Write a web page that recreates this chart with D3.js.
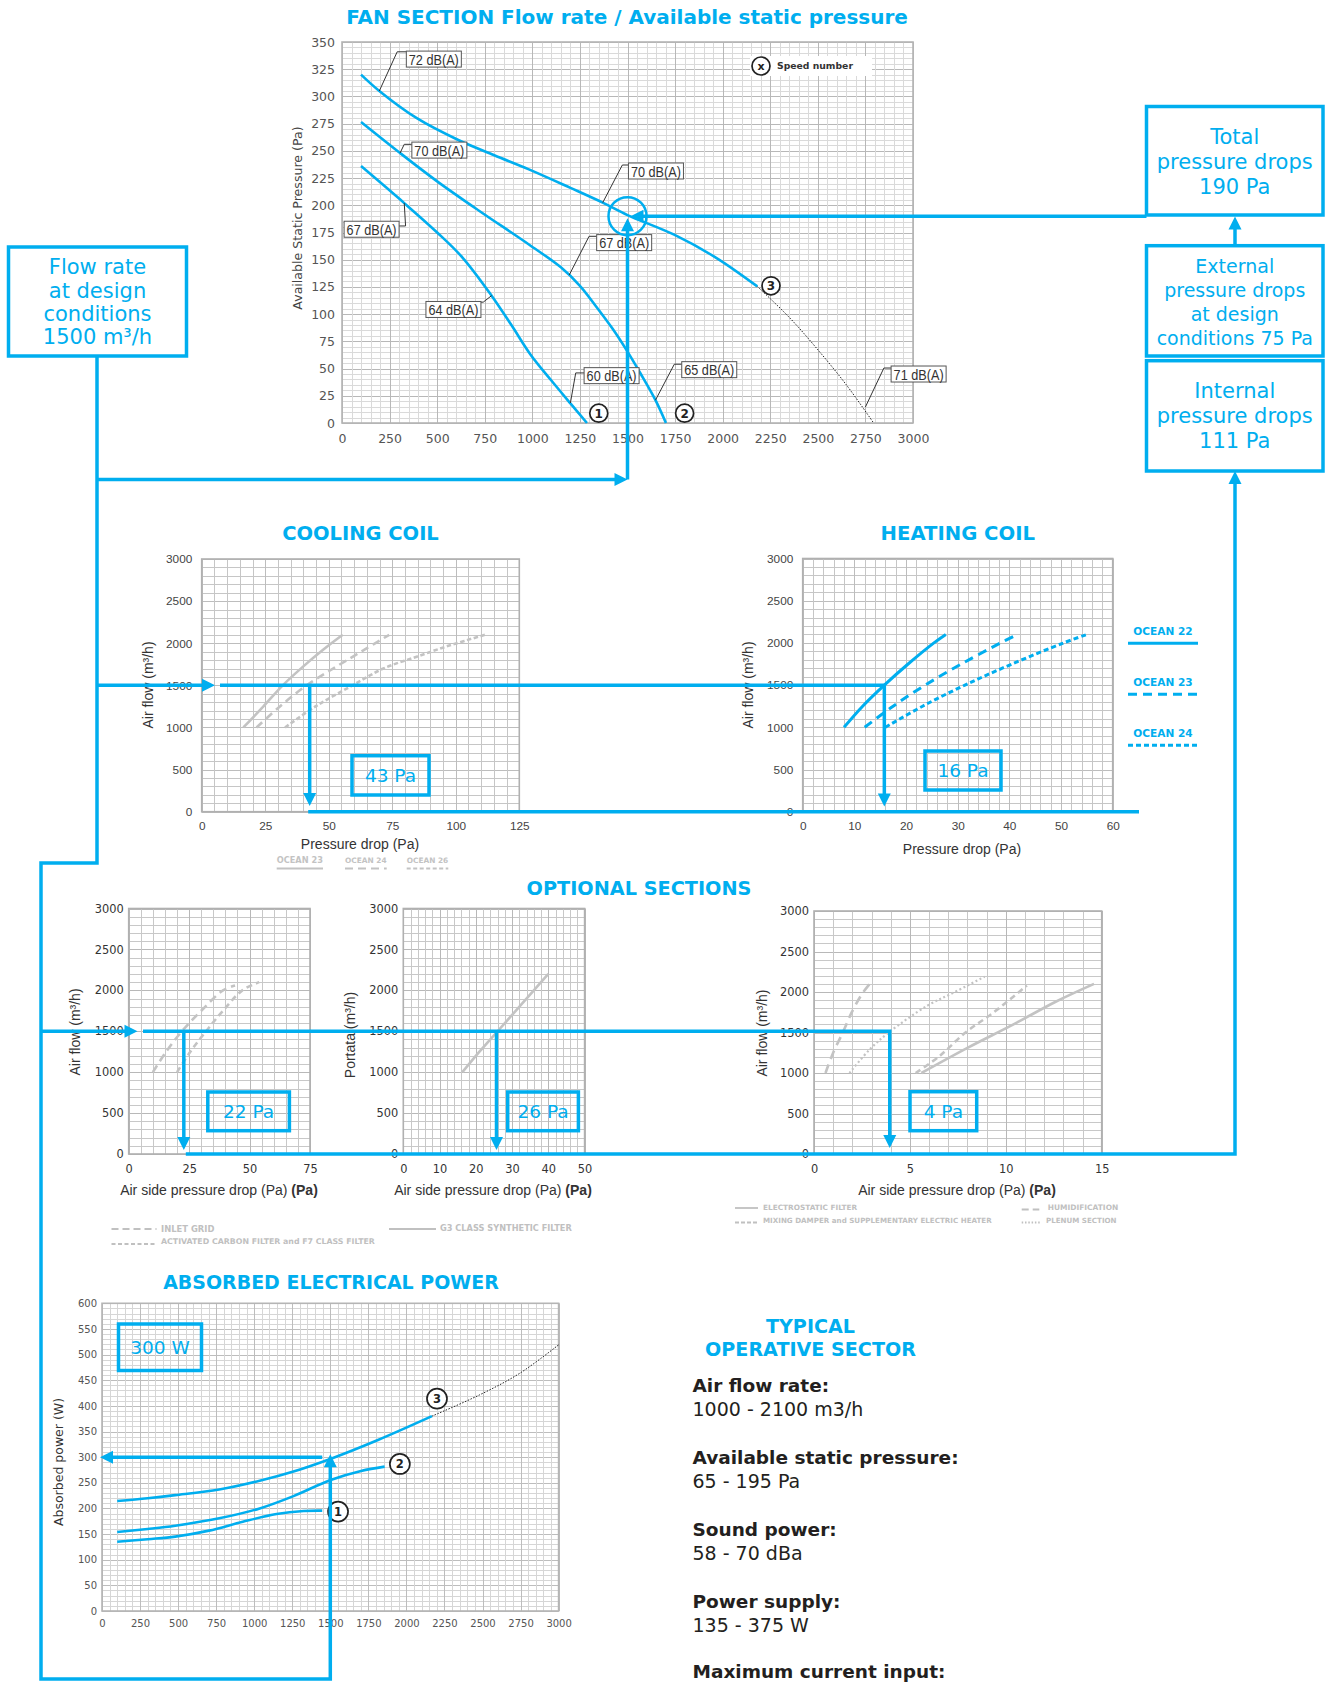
<!DOCTYPE html>
<html><head><meta charset="utf-8">
<script src="https://cdn.jsdelivr.net/npm/d3@7"></script>
<style>body{margin:0;background:#fff}svg{display:block}</style>
</head><body>
<svg id="c" width="1330" height="1682"></svg>
<script>
// ================= DATA =================
// Fan section
const fanXTicks = [0,250,500,750,1000,1250,1500,1750,2000,2250,2500,2750,3000];
const fanYTicks = [0,25,50,75,100,125,150,175,200,225,250,275,300,325,350];
const fanSpeed1 = [[100,236],[327,202],[500,175],[633,152],[786,117],[890,90],[990,63],[1100,39],[1200,18],[1287,0]];
const fanSpeed2 = [[100,276.5],[305,248],[500,222],[720,195],[982,164],[1150,143],[1250,126],[1331,108],[1420,87],[1495,67],[1570,45],[1647,21],[1702,0]];
const fanSpeed3 = [[100,320],[196,305],[393,280],[611,260],[800,246],[982,233],[1200,216],[1375,202],[1500,191],[1745,173],[1964,152],[2182,125.5]];
const fanSpeed3Ext = [[2182,125.5],[2350,97],[2487,70],[2650,35],[2793,0]];
const fanNoiseLabels = ["72 dB(A)","70 dB(A)","70 dB(A)","67 dB(A)","67 dB(A)","64 dB(A)","60 dB(A)","65 dB(A)","71 dB(A)"];
const fanNoiseOnCurve = [[196,305],[305,248],[1370,202.5],[327,202],[1194,136],[786,117],[1200,18.4],[1647,21],[2750,14.7]];
const fanNoiseElbow = [[290,341],[327,256],[1473,237],[334,181],[1298,171.5],[742,111],[1228,46],[1746,54],[2847,50.5]];
const fanNoiseBox = [[338,334.3],[367,250.7],[1505,231.5],[11,178],[1338,165.7],[441,104.3],[1272,43.5],[1785,49],[2885,45]];
const fanSpeedMarks = [[1349,9],[1800,9],[2254,126]];
const speedMarkLabels = ["1","2","3"];
const designFlow = 1500;
const designFanPressure = 190;

// Coils
const coilYTicks = [0,500,1000,1500,2000,2500,3000];
const coolXTicks = [0,25,50,75,100,125];
const coolOcean23 = [[16.4,1000],[24.3,1250],[31.9,1500],[40,1725],[47.9,1925],[55.5,2100]];
const coolOcean24 = [[21.6,1000],[30.8,1250],[41.3,1500],[53.1,1725],[63.6,1915],[73.8,2100]];
const coolOcean26 = [[32.8,1000],[45.3,1260],[59.4,1500],[71.5,1700],[84.6,1840],[97.7,1975],[111.5,2100]];
const coolLegend = ["OCEAN 23","OCEAN 24","OCEAN 26"];
const coolDesignDrop = 42.5;
const heatXTicks = [0,10,20,30,40,50,60];
const heatOcean22 = [[8,1000],[11.6,1250],[15.8,1500],[20.4,1750],[25.4,2000],[27.7,2100]];
const heatOcean23 = [[12,1000],[17.5,1250],[23.7,1500],[30.7,1750],[38.3,2000],[41.6,2100]];
const heatOcean24 = [[16,1000],[23.2,1250],[31.4,1500],[40.5,1750],[50.5,2000],[55,2100]];
const heatLegend = ["OCEAN 22","OCEAN 23","OCEAN 24"];
const heatDesignDrop = 15.8;

// Optional sections
const optYTicks = [0,500,1000,1500,2000,2500,3000];
const optAXTicks = [0,25,50,75];
const optBXTicks = [0,10,20,30,40,50];
const optCXTicks = [0,5,10,15];
const optInletGrid = [[10,1000],[15.5,1250],[22,1500],[30,1750],[39,2000],[44,2060]];
const optCarbonF7 = [[20,1000],[25.5,1250],[32,1500],[39,1750],[47,2000],[54,2100]];
const optG3 = [[16.3,1000],[21,1250],[26,1500],[31,1750],[36,2000],[40,2200]];
const optElectro = [[5.6,1000],[8,1310],[10.4,1600],[12.6,1880],[14.6,2100]];
const optMixing = [[5.3,1000],[6.5,1200],[7.9,1500],[9.35,1745],[11.1,2080]];
const optHumid = [[0.6,1000],[1.0,1250],[1.5,1500],[1.96,1745],[2.5,1975],[2.9,2100]];
const optPlenum = [[1.85,1000],[2.9,1290],[3.9,1500],[5.9,1830],[7.3,1995],[8.9,2190]];
const optADesignDrop = 22.8, optBDesignDrop = 25.7, optCDesignDrop = 3.95;

// Absorbed power
const powXTicks = [0,250,500,750,1000,1250,1500,1750,2000,2250,2500,2750,3000];
const powYTicks = [0,50,100,150,200,250,300,350,400,450,500,550,600];
const pow1 = [[100,135],[300,140],[481,145],[703,156.7],[925,174],[1147,189],[1325,195],[1447,195.7]];
const pow2 = [[100,154],[300,160],[481,166.4],[770,180.7],[1036,200],[1258,224],[1502,255.5],[1702,273],[1857,281.5]];
const pow3 = [[100,214.6],[300,220],[481,226],[770,237],[1036,254],[1258,272],[1513,298],[1813,333.5],[2168,380]];
const pow3Ext = [[2168,380],[2478,421],[2745,463.6],[3000,519]];
const powMarks = [[1551,193.8],[1957,286.7],[2201,414]];
const designPower = 300;

// ================= DRAWING =================
const CY = "#00aeef";
const GREY = "#c3c3c3";
const DJ = "DejaVu Sans", LB = "Liberation Sans";
const svg = d3.select("#c");
svg.append("rect").attr("width",1330).attr("height",1682).attr("fill","#fff");

function fit(sel, w){ const L = sel.node().getComputedTextLength(); const fs = parseFloat(sel.attr("font-size")); sel.attr("font-size", fs*w/L); return sel; }
function txt(g, x, y, t, o={}){
  const s = g.append("text").attr("x",x).attr("y",y).attr("dy", o.dy||"0.36em")
    .attr("text-anchor", o.anchor||"start").attr("font-family", o.font||DJ).attr("font-size", o.fs||12)
    .attr("font-weight", o.bold?"bold":"normal").attr("fill", o.fill||"#333").text(t);
  if (o.rot) s.attr("transform",`rotate(-90,${x},${y})`);
  if (o.w) fit(s, o.w);
  return s;
}

function makeChart(o){
  const g = svg.append("g");
  const x = d3.scaleLinear().domain(o.xDom).range([o.l,o.r]);
  const y = d3.scaleLinear().domain(o.yDom).range([o.b,o.t]);
  g.append("rect").attr("x",o.l).attr("y",o.t).attr("width",o.r-o.l).attr("height",o.b-o.t).attr("fill","#fff");
  const eps = 1e-9;
  const isMaj = (v,m)=> Math.abs(v/m - Math.round(v/m)) < 1e-6;
  const hy = d3.range(o.yDom[0], o.yDom[1]+eps, o.yStep);
  const vx = d3.range(o.xDom[0], o.xDom[1]+eps, o.xStep);
  g.selectAll(null).data(hy).join("line")
    .attr("x1",o.l).attr("x2",o.r).attr("y1",d=>Math.round(y(d))+0.5).attr("y2",d=>Math.round(y(d))+0.5)
    .attr("stroke",d=>isMaj(d,o.yMaj)?o.majC:o.minC).attr("stroke-width",1);
  g.selectAll(null).data(vx).join("line")
    .attr("y1",o.t).attr("y2",o.b).attr("x1",d=>Math.round(x(d))+0.5).attr("x2",d=>Math.round(x(d))+0.5)
    .attr("stroke",d=>isMaj(d,o.xMaj)?o.majC:o.minC).attr("stroke-width",1);
  g.append("rect").attr("x",o.l).attr("y",o.t).attr("width",o.r-o.l).attr("height",o.b-o.t)
    .attr("fill","none").attr("stroke",o.borderC).attr("stroke-width",1.6);
  const ax = g.append("g").attr("transform",`translate(0,${o.b})`)
    .call(d3.axisBottom(x).tickValues(o.xTicks).tickSize(0).tickPadding(o.xPad).tickFormat(d=>d));
  ax.select(".domain").remove();
  ax.selectAll("text").attr("font-family",o.font).attr("font-size",o.fs).attr("fill",o.tc);
  const ay = g.append("g").attr("transform",`translate(${o.l},0)`)
    .call(d3.axisLeft(y).tickValues(o.yTicks).tickSize(0).tickPadding(o.yPad).tickFormat(d=>d));
  ay.select(".domain").remove();
  ay.selectAll("text").attr("font-family",o.font).attr("font-size",o.fs).attr("fill",o.tc);
  return {g,x,y};
}
function curve(c, data, o){
  const line = d3.line().x(d=>c.x(d[0])).y(d=>c.y(d[1])).curve(d3.curveCatmullRom.alpha(0.5));
  return c.g.append("path").attr("d",line(data)).attr("fill","none").attr("stroke",o.color)
    .attr("stroke-width",o.w).attr("stroke-dasharray",o.dash||null).attr("stroke-linecap",o.cap||"butt");
}
function mark(c, p, label, r, fs){
  const g = c.g.append("g").attr("transform",`translate(${c.x(p[0])},${c.y(p[1])})`);
  g.append("circle").attr("r",r).attr("fill","#fff").attr("stroke","#222").attr("stroke-width",1.7);
  g.append("text").text(label).attr("text-anchor","middle").attr("dy","0.36em").attr("font-family",DJ)
    .attr("font-weight","bold").attr("font-size",fs).attr("fill","#222");
}
function valueBox(x0,y0,x1,y1,label,fs){
  svg.append("rect").attr("x",x0).attr("y",y0).attr("width",x1-x0).attr("height",y1-y0)
    .attr("fill","none").attr("stroke",CY).attr("stroke-width",3.5);
  txt(svg,(x0+x1)/2,(y0+y1)/2,label,{anchor:"middle",fs:fs,fill:CY});
}
function wire(pts, arrow, w){
  w = w||3.5;
  const p = pts.map(d=>d.slice());
  let head = null;
  if (arrow){
    const n = p.length, a = p[n-2], b = p[n-1];
    const dx=b[0]-a[0], dy=b[1]-a[1], L=Math.hypot(dx,dy), ux=dx/L, uy=dy/L;
    p[n-1] = [b[0]-ux*10, b[1]-uy*10];
    const bx=b[0]-ux*13, by=b[1]-uy*13;
    head = `M${b[0]},${b[1]}L${bx-uy*6.5},${by+ux*6.5}L${bx+uy*6.5},${by-ux*6.5}Z`;
  }
  svg.append("path").attr("d",d3.line()(p)).attr("fill","none").attr("stroke",CY).attr("stroke-width",w).attr("stroke-linejoin","miter");
  if (head) svg.append("path").attr("d",head).attr("fill",CY);
}

// ---------- FAN SECTION ----------
txt(svg,627,17,"FAN SECTION Flow rate / Available static pressure",{anchor:"middle",bold:true,fs:20,fill:CY,w:562});
const fan = makeChart({l:342,r:913,t:42,b:423,xDom:[0,3000],yDom:[0,350],xStep:50,yStep:5,xMaj:250,yMaj:25,
  minC:"#dadada",majC:"#b8b8b8",borderC:"#b5b5b5",xTicks:fanXTicks,yTicks:fanYTicks,font:DJ,fs:12.5,tc:"#555",xPad:11,yPad:7});
txt(svg,297,218,"Available Static Pressure (Pa)",{anchor:"middle",rot:true,fs:12.6,fill:"#444"});
// legend
fan.g.append("rect").attr("x",750).attr("y",56).attr("width",122).attr("height",20).attr("fill","#fff");
fan.g.append("circle").attr("cx",761).attr("cy",66).attr("r",9).attr("fill","#fff").attr("stroke","#222").attr("stroke-width",1.7);
txt(fan.g,761,66,"x",{anchor:"middle",bold:true,fs:11,fill:"#222"});
txt(fan.g,777,65.5,"Speed number",{bold:true,fs:10,fill:"#333",w:76});
curve(fan,fanSpeed3Ext,{color:"#222",w:1,dash:"1.5,1.5"});
curve(fan,fanSpeed1,{color:CY,w:2.6});
curve(fan,fanSpeed2,{color:CY,w:2.6});
curve(fan,fanSpeed3,{color:CY,w:2.6});
fanNoiseLabels.forEach((t,i)=>{
  const p=fanNoiseOnCurve[i], e=fanNoiseElbow[i], b=fanNoiseBox[i];
  const bx=fan.x(b[0]), by=fan.y(b[1]), bw=55, bh=16;
  const ex=fan.x(e[0]), ey=fan.y(e[1]);
  const edge = bx>ex ? bx : bx+bw;
  fan.g.append("path").attr("d",d3.line()([[fan.x(p[0]),fan.y(p[1])],[ex,ey],[edge,ey]]))
    .attr("fill","none").attr("stroke","#333").attr("stroke-width",1);
  fan.g.append("rect").attr("x",bx).attr("y",by-bh/2).attr("width",bw).attr("height",bh).attr("fill","#fff").attr("stroke","#555").attr("stroke-width",1);
  fan.g.append("text").attr("x",bx+2.5).attr("y",by).attr("dy","0.37em").attr("textLength",50).attr("lengthAdjust","spacingAndGlyphs")
    .attr("font-family",LB).attr("font-size",15.5).attr("fill","#333").text(t);
});
fanSpeedMarks.forEach((p,i)=>mark(fan,p,speedMarkLabels[i],9,12));
fan.g.append("circle").attr("cx",fan.x(designFlow)).attr("cy",fan.y(designFanPressure)).attr("r",19)
  .attr("fill","none").attr("stroke",CY).attr("stroke-width",2.5);

// ---------- COOLING COIL ----------
txt(svg,360.5,533,"COOLING COIL",{anchor:"middle",bold:true,fs:20,fill:CY,w:156.7});
const cool = makeChart({l:201.7,r:519.3,t:559,b:811.7,xDom:[0,125],yDom:[0,3000],xStep:5,yStep:100,xMaj:25,yMaj:500,
  minC:"#c6c6c6",majC:"#bdbdbd",borderC:"#b0b0b0",xTicks:coolXTicks,yTicks:coilYTicks,font:LB,fs:11.8,tc:"#444",xPad:9.5,yPad:9.4});
txt(svg,148,685,"Air flow (m³/h)",{anchor:"middle",rot:true,font:LB,fs:14,fill:"#333"});
txt(svg,360,844,"Pressure drop (Pa)",{anchor:"middle",font:LB,fs:14,fill:"#333"});
curve(cool,coolOcean23,{color:GREY,w:2.6});
curve(cool,coolOcean24,{color:GREY,w:2.6,dash:"8,5"});
curve(cool,coolOcean26,{color:GREY,w:2.6,dash:"4.5,2.5"});
[[276.7,46.3,null],[345,41.7,"8,5"],[406.7,41.6,"4,2.5"]].forEach((d,i)=>{
  txt(svg,d[0],860,coolLegend[i],{bold:true,fs:8.5,fill:"#c3c3c3",w:d[1]});
  svg.append("line").attr("x1",d[0]).attr("x2",d[0]+d[1]).attr("y1",868.5).attr("y2",868.5)
    .attr("stroke","#c3c3c3").attr("stroke-width",2).attr("stroke-dasharray",d[2]);
});

// ---------- HEATING COIL ----------
txt(svg,957.8,533,"HEATING COIL",{anchor:"middle",bold:true,fs:20,fill:CY,w:154.5});
const heat = makeChart({l:802.7,r:1112.7,t:558.5,b:811.7,xDom:[0,60],yDom:[0,3000],xStep:2,yStep:100,xMaj:10,yMaj:500,
  minC:"#c6c6c6",majC:"#bdbdbd",borderC:"#b0b0b0",xTicks:heatXTicks,yTicks:coilYTicks,font:LB,fs:11.8,tc:"#444",xPad:10,yPad:9.4});
txt(svg,748.3,685,"Air flow (m³/h)",{anchor:"middle",rot:true,font:LB,fs:14,fill:"#333"});
txt(svg,962,849,"Pressure drop (Pa)",{anchor:"middle",font:LB,fs:14,fill:"#333"});
curve(heat,heatOcean22,{color:CY,w:3});
curve(heat,heatOcean23,{color:CY,w:3,dash:"9,6"});
curve(heat,heatOcean24,{color:CY,w:3,dash:"5,3"});
[[630.7,null],[681.7,"9,6"],[732.7,"5,3"]].forEach((d,i)=>{
  txt(svg,1133.3,d[0],heatLegend[i],{bold:true,fs:10.5,fill:CY,w:59.4});
  svg.append("line").attr("x1",1128).attr("x2",1198).attr("y1",d[0]+12.5).attr("y2",d[0]+12.5)
    .attr("stroke",CY).attr("stroke-width",3).attr("stroke-dasharray",d[1]);
});

// ---------- OPTIONAL SECTIONS ----------
txt(svg,639,888,"OPTIONAL SECTIONS",{anchor:"middle",bold:true,fs:20,fill:CY,w:225});
const optCfg = {yDom:[0,3000],yStep:100,yMaj:500,minC:"#c8c8c8",majC:"#b8b8b8",borderC:"#b0b0b0",yTicks:optYTicks,font:DJ,fs:11.4,tc:"#333",xPad:10.5,yPad:5};
const optA = makeChart(Object.assign({},optCfg,{l:128.7,r:310,t:908.5,b:1154,xDom:[0,75],xStep:5,xMaj:25,xTicks:optAXTicks}));
const optB = makeChart(Object.assign({},optCfg,{l:403.3,r:584.6,t:908.5,b:1154,xDom:[0,50],xStep:2,xMaj:10,xTicks:optBXTicks}));
const optC = makeChart(Object.assign({},optCfg,{l:814,r:1101.7,t:911,b:1154,xDom:[0,15],xStep:1,xMaj:5,xTicks:optCXTicks}));
txt(svg,75,1032,"Air flow (m³/h)",{anchor:"middle",rot:true,font:LB,fs:14,fill:"#333"});
txt(svg,350,1035,"Portata (m³/h)",{anchor:"middle",rot:true,font:LB,fs:14,fill:"#333"});
txt(svg,761.7,1033,"Air flow (m³/h)",{anchor:"middle",rot:true,font:LB,fs:14,fill:"#333"});
[[219,optA],[493,optB],[957,optC]].forEach(d=>{
  const t = svg.append("text").attr("x",d[0]).attr("y",1189.5).attr("dy","0.36em").attr("text-anchor","middle")
    .attr("font-family",LB).attr("font-size",14).attr("fill","#333");
  t.append("tspan").text("Air side pressure drop (Pa) ");
  t.append("tspan").attr("font-weight","bold").text("(Pa)");
});
curve(optA,optInletGrid,{color:GREY,w:2.6,dash:"8,5"});
curve(optA,optCarbonF7,{color:GREY,w:2.6,dash:"6,4"});
curve(optB,optG3,{color:GREY,w:2.6});
curve(optC,optElectro,{color:GREY,w:2.6});
curve(optC,optMixing,{color:GREY,w:2.6,dash:"6,4"});
curve(optC,optHumid,{color:GREY,w:2.6,dash:"9,6"});
curve(optC,optPlenum,{color:GREY,w:2.2,dash:"2,2.5"});
// legends
const LG = "#c0c0c0";
function legLine(x0,x1,y,dash){ svg.append("line").attr("x1",x0).attr("x2",x1).attr("y1",y).attr("y2",y).attr("stroke",LG).attr("stroke-width",1.8).attr("stroke-dasharray",dash); }
legLine(111.5,156.5,1229,"7,4"); txt(svg,161,1228.5,"INLET GRID",{bold:true,fs:8,fill:LG,w:53.5});
legLine(111.5,156.5,1244,"4,2.5"); txt(svg,161,1241.5,"ACTIVATED CARBON FILTER and F7 CLASS FILTER",{bold:true,fs:8,fill:LG,w:214});
legLine(389,436,1229,null); txt(svg,440,1228.5,"G3 CLASS SYNTHETIC FILTER",{bold:true,fs:8,fill:LG,w:132});
legLine(735,758,1208,null); txt(svg,763,1207.5,"ELECTROSTATIC FILTER",{bold:true,fs:8,fill:LG,w:94.3});
legLine(735,758,1222.5,"4,2"); txt(svg,763,1220.7,"MIXING DAMPER and SUPPLEMENTARY ELECTRIC HEATER",{bold:true,fs:8,fill:LG,w:229});
legLine(1021.7,1039.3,1209.5,"7,4"); txt(svg,1047.7,1207.5,"HUMIDIFICATION",{bold:true,fs:8,fill:LG,w:70.7});
legLine(1021.7,1040.7,1222.5,"1.5,1.8"); txt(svg,1046,1220.7,"PLENUM SECTION",{bold:true,fs:8,fill:LG,w:70.7});

// ---------- ABSORBED ELECTRICAL POWER ----------
txt(svg,331,1282,"ABSORBED ELECTRICAL POWER",{anchor:"middle",bold:true,fs:20,fill:CY,w:335.7});
const pw = makeChart({l:102,r:558.6,t:1303.3,b:1611,xDom:[0,3000],yDom:[0,600],xStep:50,yStep:10,xMaj:250,yMaj:50,
  minC:"#d6d6d6",majC:"#bdbdbd",borderC:"#b5b5b5",xTicks:powXTicks,yTicks:powYTicks,font:DJ,fs:10,tc:"#555",xPad:8.5,yPad:5});
txt(svg,58.6,1462,"Absorbed power (W)",{anchor:"middle",rot:true,fs:12.5,fill:"#333"});
curve(pw,pow3Ext,{color:"#222",w:1,dash:"1.5,1.5"});
curve(pw,pow1,{color:CY,w:2.6});
curve(pw,pow2,{color:CY,w:2.6});
curve(pw,pow3,{color:CY,w:2.6});
powMarks.forEach((p,i)=>mark(pw,p,speedMarkLabels[i],10,11.5));

// ---------- TYPICAL OPERATIVE SECTOR ----------
txt(svg,810.5,1326,"TYPICAL",{anchor:"middle",bold:true,fs:20,fill:CY,w:89});
txt(svg,810.5,1349,"OPERATIVE SECTOR",{anchor:"middle",bold:true,fs:20,fill:CY,w:211});
const TC = "#231f20";
[["Air flow rate:",1385.5,true],["1000 - 2100 m3/h",1409,false],["Available static pressure:",1457.3,true],["65 - 195 Pa",1481.5,false],
 ["Sound power:",1529.3,true],["58 - 70 dBa",1553.3,false],["Power supply:",1601.5,true],["135 - 375 W",1625,false],["Maximum current input:",1671.7,true]]
 .forEach(d=>txt(svg,692.5,d[1],d[0],{bold:d[2],fs:d[2]?18.5:19,fill:TC}));

// ---------- TEXT BOXES ----------
function boxLines(x0,y0,x1,y1,lines,ys,fs){
  svg.append("rect").attr("x",x0).attr("y",y0).attr("width",x1-x0).attr("height",y1-y0).attr("fill","#fff").attr("stroke",CY).attr("stroke-width",3.5);
  lines.forEach((t,i)=>txt(svg,(x0+x1)/2,ys[i],t,{anchor:"middle",fs:fs,fill:CY}));
}
boxLines(8.5,247,186.5,356,["Flow rate","at design","conditions","1500 m³/h"],[266.7,290,313.3,336.7],21);
boxLines(1146.5,106.5,1323,215,["Total","pressure drops","190 Pa"],[136.7,161.7,186.7],21);
boxLines(1146.5,245.7,1323,356,["External","pressure drops","at design","conditions 75 Pa"],[265.7,290,314.3,338.3],19);
boxLines(1146.5,360.7,1323,471,["Internal","pressure drops","111 Pa"],[390,415.7,440.7],21);
valueBox(352,755.7,429,795,"43 Pa",18.5);
valueBox(925,751,1001,790,"16 Pa",18.5);
valueBox(207.8,1092,289.4,1130.7,"22 Pa",18.5);
valueBox(507.7,1092,578.4,1130.7,"26 Pa",18.5);
valueBox(910,1091.7,976.7,1130.7,"4 Pa",18.5);
valueBox(118.5,1324,201.5,1370.5,"300 W",18.5);

// ---------- CONNECTORS ----------
const fx = fan.x(designFlow), fy = fan.y(designFanPressure);
const coolY = cool.y(1500), optY = optA.y(1500);
wire([[97,356],[97,863],[41,863],[41,1679],[pw.x(designFlow),1679],[pw.x(designFlow),pw.y(designPower)-3]],true);
wire([[97,479.5],[fx,479.5]],true);
wire([[fx,479.5],[fx,fy+2]],true);
wire([[1146.5,fy],[fx+3,fy]],true);
wire([[1235,245.7],[1235,216.5]],true);
wire([[97,coolY],[215,coolY]],true);
wire([[220,coolY],[heat.x(heatDesignDrop),coolY],[heat.x(heatDesignDrop),806.5]],true);
wire([[cool.x(coolDesignDrop),coolY],[cool.x(coolDesignDrop),806]],true);
wire([[cool.x(coolDesignDrop)-1.5,cool.y(0)],[1139,cool.y(0)]],false);
wire([[41,optY],[137.5,optY]],true);
wire([[143,optY],[optC.x(optCDesignDrop),optY],[optC.x(optCDesignDrop),1148]],true);
wire([[optA.x(optADesignDrop),optY],[optA.x(optADesignDrop),1150]],true);
wire([[optB.x(optBDesignDrop),optY],[optB.x(optBDesignDrop),1150]],true);
wire([[optA.x(optADesignDrop)+2,optA.y(0)],[1235,optA.y(0)],[1235,471]],true);
wire([[pw.x(1447),pw.y(designPower)],[pw.x(0)-2,pw.y(designPower)]],true);
</script>
</body></html>
